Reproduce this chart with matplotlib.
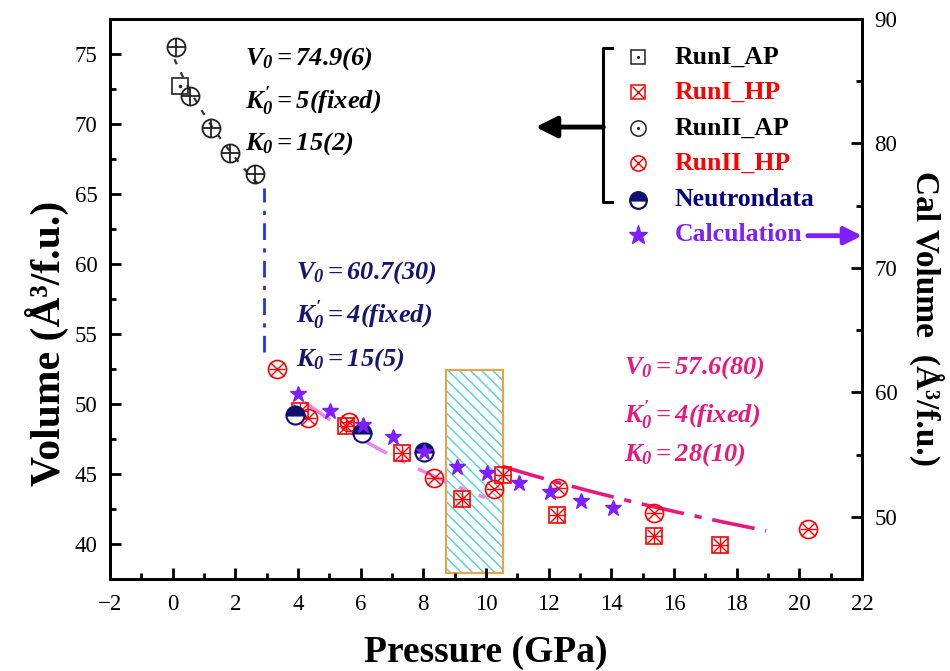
import numpy as np
import matplotlib
matplotlib.use("Agg")
import matplotlib.pyplot as plt
from matplotlib.patches import Rectangle
from matplotlib.ticker import MultipleLocator

plt.rcParams['font.family'] = ['Liberation Serif', 'DejaVu Serif']
plt.rcParams['mathtext.fontset'] = 'custom'
plt.rcParams['mathtext.rm'] = 'Liberation Serif:bold:italic'
plt.rcParams['mathtext.it'] = 'Liberation Serif:bold:italic'
plt.rcParams['mathtext.bf'] = 'Liberation Serif:bold:italic'

# ---- data ----
p_run1_ap = [0.23]
v_run1_ap = [72.7]
p_run2_ap = [0.11, 0.55, 1.22, 1.83, 2.63]
v_run2_ap = [75.5, 72.0, 69.7, 67.9, 66.4]
p_run1_hp = [4.06, 5.53, 7.32, 9.23, 10.54, 12.27, 15.36, 17.47]
v_run1_hp = [49.5, 48.4, 46.5, 43.2, 44.9, 42.1, 40.6, 39.9]
p_run2_hp = [3.33, 4.32, 5.63, 8.34, 10.26, 12.3, 15.36, 20.28]
v_run2_hp = [52.5, 49.0, 48.7, 44.7, 43.9, 44.0, 42.2, 41.1]
p_neutron = [3.9, 6.04, 8.02]
v_neutron = [49.2, 47.9, 46.6]
p_calc = [4.0, 5.02, 6.07, 7.03, 8.02, 9.08, 10.03, 11.05, 12.04, 13.03, 14.05]
v_calc = [59.9, 58.5, 57.4, 56.4, 55.2, 54.0, 53.5, 52.7, 52.0, 51.3, 50.7]

# EOS fits: V0, K0, K0', pressure range
eos_fits = [
    (74.9, 15.0, 5.0, 0.05, 2.75),
    (60.7, 15.0, 4.0, 4.2, 10.0),
    (57.6, 28.0, 4.0, 10.5, 19.0),
]
eos_labels = [
    [r"$V_0 = 74.9(6)$", r"$K^{\prime}_0 = 5(fixed)$", r"$K_0 = 15(2)$"],
    [r"$V_0 = 60.7(30)$", r"$K^{\prime}_0 = 4(fixed)$", r"$K_0 = 15(5)$"],
    [r"$V_0 = 57.6(80)$", r"$K^{\prime}_0 = 4(fixed)$", r"$K_0 = 28(10)$"],
]
transition_p = 2.93
transition_v = (53.7, 65.4)
hatch_p = (8.72, 10.54)
hatch_v = (37.9, 52.4)


def bm3(v, v0, k0, kp):
    x = (v0 / v) ** (2.0 / 3.0)
    return 1.5 * k0 * (x ** 3.5 - x ** 2.5) * (1 + 0.75 * (kp - 4) * (x - 1))


fig = plt.figure(figsize=(9.5, 6.71), dpi=100)
ax = fig.add_axes([0.1158, 0.1371, 0.7916, 0.8346])
ax2 = ax.twinx()

# fit curves
fit_styles = [
    dict(color='#333333', lw=1.6, ls=(0, (2.5, 4))),
    dict(color='#ee82ee', lw=2.5, ls=(0, (9, 4, 2, 4))),
    dict(color='#e8197d', lw=2.6, ls=(0, (12, 3, 2, 3))),
]
for (v0, k0, kp, pmin, pmax), st in zip(eos_fits, fit_styles):
    vv = np.linspace(v0 * 1.02, v0 * 0.6, 800)
    pp = bm3(vv, v0, k0, kp)
    m = (pp >= pmin) & (pp <= pmax)
    ax.plot(pp[m], vv[m], zorder=2, **st)

ax.plot([transition_p, transition_p], transition_v, color='#2233dd', lw=2,
        ls=(0, (6, 3, 1.5, 3)), zorder=2)

ax.add_patch(Rectangle((hatch_p[0], hatch_v[0]), hatch_p[1] - hatch_p[0],
                       hatch_v[1] - hatch_v[0], fill=False, hatch='\\\\\\',
                       edgecolor='#44d4e4', lw=0, zorder=1))
ax.add_patch(Rectangle((hatch_p[0], hatch_v[0]), hatch_p[1] - hatch_p[0],
                       hatch_v[1] - hatch_v[0], fill=False,
                       edgecolor='#f0a040', lw=1.5, zorder=1))

# markers
ms = 12
ax.plot(p_run1_ap, v_run1_ap, 's', ms=ms, mfc='none', mec='#222222', mew=1.2, zorder=3)
ax.plot(p_run1_ap, v_run1_ap, '.', ms=3, color='#222222', zorder=3)
ax.plot(p_run2_ap, v_run2_ap, 'o', ms=ms + 1, mfc='none', mec='#222222', mew=1.3, zorder=3)
ax.plot(p_run2_ap, v_run2_ap, '+', ms=ms + 1, mec='#222222', mew=1.3, zorder=3)

ax.plot(p_run1_hp, v_run1_hp, 's', ms=ms, mfc='none', mec='red', mew=1.2, zorder=3)
ax.plot(p_run1_hp, v_run1_hp, 'x', ms=ms - 2, mec='red', mew=1.0, zorder=3)
ax.plot(p_run1_hp, v_run1_hp, '+', ms=ms - 1, mec='red', mew=1.0, zorder=3)
ax.plot(p_run2_hp, v_run2_hp, 'o', ms=ms + 1, mfc='none', mec='red', mew=1.2, zorder=3)
ax.plot(p_run2_hp, v_run2_hp, 'x', ms=ms - 2, mec='red', mew=1.0, zorder=3)
ax.plot(p_run2_hp, v_run2_hp, '_', ms=ms - 1, mec='red', mew=1.0, zorder=3)

ax.plot(p_neutron, v_neutron, 'o', ms=ms + 1, fillstyle='top', mfc='#101070',
        mfcalt='white', mec='#101070', mew=1.5, zorder=3)

ax2.plot(p_calc, v_calc, '*', ms=12, color='#7f1fff', mec='#7f1fff', zorder=4)

# axes
ax.set_xlim(-2, 22)
ax.set_ylim(37.5, 77.5)
ax2.set_ylim(45, 90)
ax.xaxis.set_major_locator(MultipleLocator(2))
ax.xaxis.set_minor_locator(MultipleLocator(1))
ax.yaxis.set_major_locator(MultipleLocator(5))
ax.yaxis.set_minor_locator(MultipleLocator(2.5))
ax2.yaxis.set_major_locator(MultipleLocator(10))
ax2.yaxis.set_minor_locator(MultipleLocator(5))
ax.set_yticks([40, 45, 50, 55, 60, 65, 70, 75])
ax2.set_yticks([50, 60, 70, 80, 90])

for a in (ax, ax2):
    for s in a.spines.values():
        s.set_linewidth(2)
ax.tick_params(which='both', direction='in', top=False, right=False, width=2,
               labelsize=16.5)
ax.tick_params(axis='x', pad=11)
ax.tick_params(axis='y', pad=9)
ax.tick_params(which='major', length=8)
ax.tick_params(which='minor', length=4.5)
ax2.tick_params(which='both', direction='in', width=2, labelsize=16.5, pad=9)
ax2.tick_params(which='major', length=8)
ax2.tick_params(which='minor', length=4.5)

ax.set_xlabel('Pressure (GPa)', fontsize=27, fontweight='bold', labelpad=14)
ax.set_ylabel('Volume (Å³/f.u.)', fontsize=30, fontweight='bold', labelpad=4)
ax.yaxis.label.set_y(0.42)
ax2.set_ylabel('Cal Volume  (Å³/f.u.)', fontsize=24, fontweight='bold',
               rotation=270, labelpad=34)
ax2.yaxis.label.set_y(0.466)

# fit annotations
ann_pos = [(2.3, [74.7, 71.6, 68.6], 'black'),
           (3.95, [59.4, 56.3, 53.2], '#16166e'),
           (14.4, [52.6, 49.2, 46.4], '#e8197d')]
for (x0, ys, col), labs in zip(ann_pos, eos_labels):
    for y0, t in zip(ys, labs):
        ax.text(x0, y0, t, fontsize=19, color=col, va='center', ha='left', zorder=5)

# legend drawn by hand with bracket
leg_x, txt_x = 0.702, 0.751
leg_y = [0.932, 0.870, 0.805, 0.743, 0.677, 0.615]
leg_names = ['RunI_AP', 'RunI_HP', 'RunII_AP', 'RunII_HP', 'Neutrondata', 'Calculation']
leg_cols = ['black', 'red', 'black', 'red', '#000080', '#7f1fff']
T = ax2.transAxes
kw = dict(transform=T, clip_on=False, zorder=6)
ax2.plot(leg_x, leg_y[0], 's', ms=10, mfc='none', mec='#222222', mew=1.1, **kw)
ax2.plot(leg_x, leg_y[0], '.', ms=2.5, color='#222222', **kw)
ax2.plot(leg_x, leg_y[1], 's', ms=10, mfc='none', mec='red', mew=1.1, **kw)
ax2.plot(leg_x, leg_y[1], 'x', ms=8, mec='red', mew=1.0, **kw)
ax2.plot(leg_x, leg_y[2], 'o', ms=11, mfc='none', mec='#222222', mew=1.1, **kw)
ax2.plot(leg_x, leg_y[2], '.', ms=2.5, color='#222222', **kw)
ax2.plot(leg_x, leg_y[3], 'o', ms=11, mfc='none', mec='red', mew=1.1, **kw)
ax2.plot(leg_x, leg_y[3], 'x', ms=8, mec='red', mew=1.0, **kw)
ax2.plot(leg_x, leg_y[4], 'o', ms=12, fillstyle='top', mfc='#101070', mfcalt='white',
         mec='#101070', mew=1.6, **kw)
ax2.plot(leg_x, leg_y[5], '*', ms=14, color='#7f1fff', **kw)
for y0, name, col in zip(leg_y, leg_names, leg_cols):
    ax2.text(txt_x, y0, name, transform=T, fontsize=18.5, fontweight='bold',
             color=col, va='center', ha='left')

bx, bx2 = 0.656, 0.668
ax2.plot([bx2, bx, bx, bx2], [0.948, 0.948, 0.673, 0.673], color='black', lw=2.2, **kw)
ax2.annotate('', xy=(0.566, 0.807), xytext=(bx, 0.807), xycoords=T, textcoords=T,
             arrowprops=dict(arrowstyle='-|>', lw=3.5, color='black', mutation_scale=32,
                             shrinkA=0, shrinkB=0))
ax2.annotate('', xy=(1.0, 0.613), xytext=(0.928, 0.613), xycoords=T, textcoords=T,
             arrowprops=dict(arrowstyle='-|>', lw=3.5, color='#7f1fff', mutation_scale=26,
                             shrinkA=0, shrinkB=0))

fig.savefig('out.png', dpi=100)
